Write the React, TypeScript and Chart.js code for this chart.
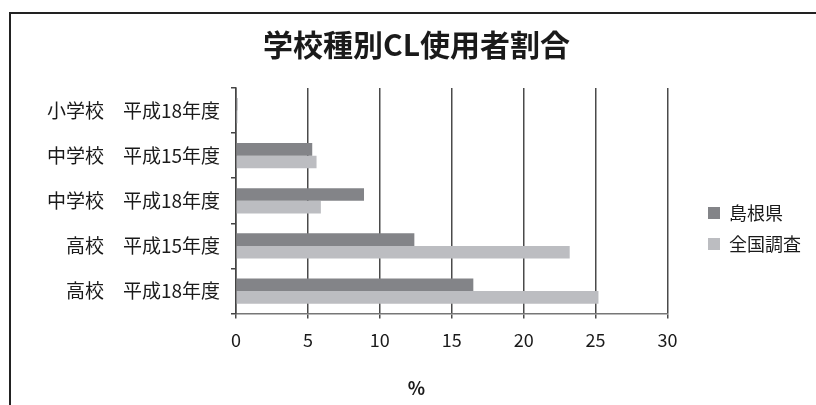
import React, { useEffect, useRef } from 'react';
import { Chart, registerables } from 'chart.js';

Chart.register(...registerables);

const chartTitle = '学校種別CL使用者割合';
const categories = [
  '小学校　平成18年度',
  '中学校　平成15年度',
  '中学校　平成18年度',
  '高校　平成15年度',
  '高校　平成18年度',
];
const seriesNames = ['島根県', '全国調査'];
const shimaneValues = [0.1, 5.3, 8.9, 12.4, 16.5];
const nationalValues = [0.1, 5.6, 5.9, 23.2, 25.2];
const xAxisTitle = '%';
const xMin = 0;
const xMax = 30;
const xStep = 5;

const FONT = '"Noto Sans CJK JP", "Noto Sans", sans-serif';
const TEXT = '#1a1a1a';

const framePlugin = {
  id: 'frame',
  beforeDraw(chart: any) {
    const ctx = chart.ctx;
    ctx.save();
    ctx.fillStyle = '#ffffff';
    ctx.fillRect(0, 0, chart.width, chart.height);
    ctx.strokeStyle = '#222';
    ctx.lineWidth = 2;
    ctx.beginPath();
    ctx.moveTo(10, chart.height + 5);
    ctx.lineTo(10, 13);
    ctx.lineTo(chart.width + 5, 13);
    ctx.stroke();
    ctx.restore();
  },
};

export default function App() {
  const ref = useRef<HTMLCanvasElement | null>(null);

  useEffect(() => {
    if (!ref.current) return;
    const chart = new Chart(ref.current, {
      type: 'bar',
      data: {
        labels: categories,
        datasets: [
          {
            label: seriesNames[0],
            data: shimaneValues,
            backgroundColor: '#838488',
            borderWidth: 0,
            xAxisID: 'x',
            yAxisID: 'y',
          },
          {
            label: seriesNames[1],
            data: nationalValues,
            backgroundColor: '#bcbdc1',
            borderWidth: 0,
            xAxisID: 'x',
            yAxisID: 'y',
          },
        ],
      },
      options: {
        indexAxis: 'y',
        responsive: false,
        animation: false,
        devicePixelRatio: 1,
        datasets: {
          bar: { categoryPercentage: 0.56, barPercentage: 1.0 },
        },
        layout: { padding: { top: 12, left: 22, right: 5, bottom: 0 } },
        scales: {
          x: {
            type: 'linear',
            position: 'bottom',
            min: xMin,
            max: xMax,
            ticks: {
              stepSize: xStep,
              color: TEXT,
              padding: 11,
              font: { family: FONT, size: 18 },
            },
            grid: {
              color: '#4a4a4a',
              lineWidth: 1.5,
              drawTicks: true,
              tickLength: 5,
            },
            border: { display: true, color: '#777', width: 1.5 },
          },
          y: {
            type: 'category',
            position: 'left',
            ticks: {
              color: TEXT,
              padding: 11,
              font: { family: FONT, size: 19 },
            },
            grid: {
              offset: true,
              drawOnChartArea: false,
              drawTicks: true,
              tickLength: 5,
              color: '#444',
              lineWidth: 1.5,
            },
            border: { display: true, color: '#444', width: 1.5 },
            afterFit: (s: any) => {
              s.width = 214;
            },
          },
          gap: {
            type: 'linear',
            axis: 'y',
            position: 'right',
            display: true,
            grid: { display: false },
            border: { display: false },
            ticks: { display: false },
            afterFit: (s: any) => {
              s.width = 27.5;
            },
          },
        },
        plugins: {
          title: {
            display: true,
            text: chartTitle,
            color: TEXT,
            font: { family: FONT, size: 30, weight: 'bold' },
            padding: { top: 14.5, bottom: 25.5 },
          },
          subtitle: {
            display: true,
            position: 'bottom',
            text: xAxisTitle,
            color: TEXT,
            font: { family: FONT, size: 18, weight: 'bold' },
            padding: { top: 14.8, bottom: 6.4 },
          },
          legend: {
            display: true,
            position: 'right',
            align: 'center',
            title: {
              display: true,
              text: ' ',
              font: { family: FONT, size: 12 },
              padding: { top: 0, bottom: 25.6 },
            },
            labels: {
              boxWidth: 12,
              boxHeight: 12,
              padding: 13,
              color: TEXT,
              font: { family: FONT, size: 18 },
            },
          },
          tooltip: { enabled: false },
        },
      },
      plugins: [framePlugin],
    } as any);
    return () => chart.destroy();
  }, []);

  return (
    <div style={{ position: 'fixed', left: 0, top: 0, width: 816, height: 405, background: '#fff' }}>
      <canvas ref={ref} width={816} height={405} style={{ display: 'block', width: 816, height: 405 }} />
    </div>
  );
}
